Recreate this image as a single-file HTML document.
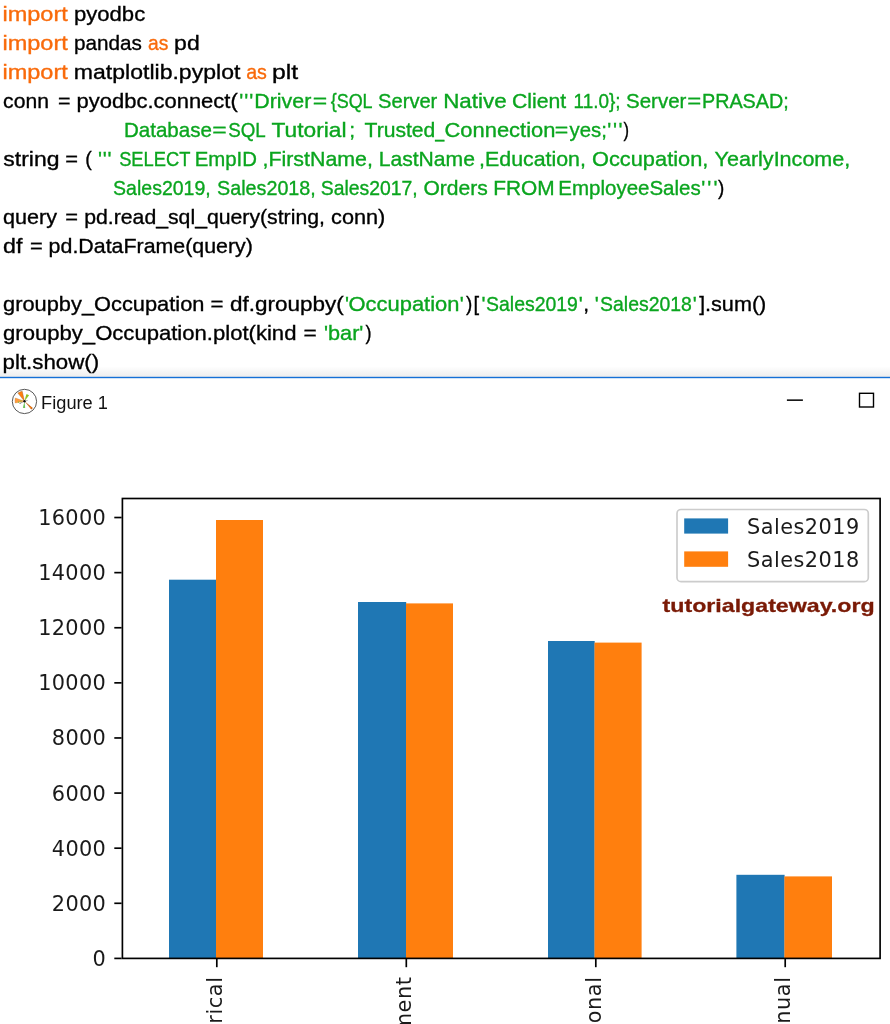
<!DOCTYPE html>
<html lang="en"><head><meta charset="utf-8"><title>Figure 1</title>
<style>html,body{margin:0;padding:0;background:#fff}body{width:890px;height:1024px;overflow:hidden}svg{display:block}.c{font-family:"Liberation Sans",sans-serif;font-size:21px;stroke-width:0.35px;paint-order:stroke}.d{font-family:"DejaVu Sans","Liberation Sans",sans-serif;font-size:20.83px;fill:#1a1a1a}</style></head><body>
<svg width="890" height="1024" viewBox="0 0 890 1024">
<rect width="890" height="1024" fill="#fff"/>
<defs><linearGradient id="gr" x1="0" y1="0" x2="0" y2="1"><stop offset="0" stop-color="#fff"/><stop offset="1" stop-color="#ededed"/></linearGradient></defs>
<rect x="0" y="366.4" width="890" height="10.6" fill="url(#gr)"/>
<g class="c">
<text x="2.43" y="21.0" fill="#f96a0a" stroke="#f96a0a" textLength="65.35" lengthAdjust="spacingAndGlyphs">import</text>
<text x="73.98" y="21.0" fill="#000000" stroke="#000000" textLength="71.21" lengthAdjust="spacingAndGlyphs">pyodbc</text>
<text x="2.43" y="50.0" fill="#f96a0a" stroke="#f96a0a" textLength="65.35" lengthAdjust="spacingAndGlyphs">import</text>
<text x="74.07" y="50.0" fill="#000000" stroke="#000000" textLength="67.88" lengthAdjust="spacingAndGlyphs">pandas</text>
<text x="147.98" y="50.0" fill="#f96a0a" stroke="#f96a0a" textLength="20.31" lengthAdjust="spacingAndGlyphs">as</text>
<text x="174.12" y="50.0" fill="#000000" stroke="#000000" textLength="25.56" lengthAdjust="spacingAndGlyphs">pd</text>
<text x="2.43" y="79.0" fill="#f96a0a" stroke="#f96a0a" textLength="65.35" lengthAdjust="spacingAndGlyphs">import</text>
<text x="73.87" y="79.0" fill="#000000" stroke="#000000" textLength="166.5" lengthAdjust="spacingAndGlyphs">matplotlib.pyplot</text>
<text x="246.17" y="79.0" fill="#f96a0a" stroke="#f96a0a" textLength="20.74" lengthAdjust="spacingAndGlyphs">as</text>
<text x="272.0" y="79.0" fill="#000000" stroke="#000000" textLength="26.18" lengthAdjust="spacingAndGlyphs">plt</text>
<text x="3.1" y="108.0" fill="#000000" stroke="#000000" textLength="45.87" lengthAdjust="spacingAndGlyphs">conn</text>
<text x="57.95" y="108.0" fill="#000000" stroke="#000000" textLength="12.5" lengthAdjust="spacingAndGlyphs">=</text>
<text x="76.58" y="108.0" fill="#000000" stroke="#000000" textLength="161.14" lengthAdjust="spacingAndGlyphs">pyodbc.connect(</text>
<text x="239.33" y="108.0" fill="#0aa51e" stroke="#0aa51e" textLength="13.97" lengthAdjust="spacing">'''</text>
<text x="254.24" y="108.0" fill="#0aa51e" stroke="#0aa51e" textLength="57.11" lengthAdjust="spacingAndGlyphs">Driver</text>
<text x="312.79" y="108.0" fill="#0aa51e" stroke="#0aa51e" textLength="14.42" lengthAdjust="spacingAndGlyphs">=</text>
<text x="330.7" y="108.0" fill="#0aa51e" stroke="#0aa51e" textLength="41.89" lengthAdjust="spacingAndGlyphs">{SQL</text>
<text x="378.09" y="108.0" fill="#0aa51e" stroke="#0aa51e" textLength="59.25" lengthAdjust="spacingAndGlyphs">Server</text>
<text x="443.16" y="108.0" fill="#0aa51e" stroke="#0aa51e" textLength="63.43" lengthAdjust="spacingAndGlyphs">Native</text>
<text x="511.92" y="108.0" fill="#0aa51e" stroke="#0aa51e" textLength="54.23" lengthAdjust="spacingAndGlyphs">Client</text>
<text x="573.6" y="108.0" fill="#0aa51e" stroke="#0aa51e" textLength="47.05" lengthAdjust="spacingAndGlyphs">11.0};</text>
<text x="626.07" y="108.0" fill="#0aa51e" stroke="#0aa51e" textLength="60.27" lengthAdjust="spacingAndGlyphs">Server</text>
<text x="687.23" y="108.0" fill="#0aa51e" stroke="#0aa51e" textLength="13.94" lengthAdjust="spacingAndGlyphs">=</text>
<text x="701.98" y="108.0" fill="#0aa51e" stroke="#0aa51e" textLength="86.8" lengthAdjust="spacingAndGlyphs">PRASAD;</text>
<text x="123.91" y="137.0" fill="#0aa51e" stroke="#0aa51e" textLength="88.0" lengthAdjust="spacingAndGlyphs">Database</text>
<text x="212.39" y="137.0" fill="#0aa51e" stroke="#0aa51e" textLength="14.42" lengthAdjust="spacingAndGlyphs">=</text>
<text x="228.15" y="137.0" fill="#0aa51e" stroke="#0aa51e" textLength="37.47" lengthAdjust="spacingAndGlyphs">SQL</text>
<text x="271.49" y="137.0" fill="#0aa51e" stroke="#0aa51e" textLength="75.01" lengthAdjust="spacingAndGlyphs">Tutorial</text>
<text x="349.28" y="137.0" fill="#0aa51e" stroke="#0aa51e" textLength="5.83" lengthAdjust="spacingAndGlyphs">;</text>
<text x="364.53" y="137.0" fill="#0aa51e" stroke="#0aa51e" textLength="70.82" lengthAdjust="spacingAndGlyphs">Trusted</text>
<text x="435.24" y="137.0" fill="#0aa51e" stroke="#0aa51e" textLength="8.97" lengthAdjust="spacingAndGlyphs">_</text>
<text x="444.49" y="137.0" fill="#0aa51e" stroke="#0aa51e" textLength="110.94" lengthAdjust="spacingAndGlyphs">Connection</text>
<text x="554.67" y="137.0" fill="#0aa51e" stroke="#0aa51e" textLength="13.46" lengthAdjust="spacingAndGlyphs">=</text>
<text x="569.55" y="137.0" fill="#0aa51e" stroke="#0aa51e" textLength="37.28" lengthAdjust="spacingAndGlyphs">yes;</text>
<text x="607.33" y="137.0" fill="#0aa51e" stroke="#0aa51e" textLength="15.17" lengthAdjust="spacing">'''</text>
<text x="623.5" y="137.0" fill="#000000" stroke="#000000" textLength="5.53" lengthAdjust="spacingAndGlyphs">)</text>
<text x="3.36" y="166.0" fill="#000000" stroke="#000000" textLength="56.12" lengthAdjust="spacingAndGlyphs">string</text>
<text x="65.33" y="166.0" fill="#000000" stroke="#000000" textLength="12.74" lengthAdjust="spacingAndGlyphs">=</text>
<text x="85.18" y="166.0" fill="#000000" stroke="#000000" textLength="6.53" lengthAdjust="spacingAndGlyphs">(</text>
<text x="97.93" y="166.0" fill="#0aa51e" stroke="#0aa51e" textLength="13.67" lengthAdjust="spacing">'''</text>
<text x="119.17" y="166.0" fill="#0aa51e" stroke="#0aa51e" textLength="71.25" lengthAdjust="spacingAndGlyphs">SELECT</text>
<text x="194.73" y="166.0" fill="#0aa51e" stroke="#0aa51e" textLength="62.25" lengthAdjust="spacingAndGlyphs">EmpID</text>
<text x="262.48" y="166.0" fill="#0aa51e" stroke="#0aa51e" textLength="110.44" lengthAdjust="spacingAndGlyphs">,FirstName,</text>
<text x="378.67" y="166.0" fill="#0aa51e" stroke="#0aa51e" textLength="96.27" lengthAdjust="spacingAndGlyphs">LastName</text>
<text x="479.08" y="166.0" fill="#0aa51e" stroke="#0aa51e" textLength="106.84" lengthAdjust="spacingAndGlyphs">,Education,</text>
<text x="591.97" y="166.0" fill="#0aa51e" stroke="#0aa51e" textLength="116.39" lengthAdjust="spacingAndGlyphs">Occupation,</text>
<text x="714.53" y="166.0" fill="#0aa51e" stroke="#0aa51e" textLength="135.78" lengthAdjust="spacingAndGlyphs">YearlyIncome,</text>
<text x="113.11" y="195.0" fill="#0aa51e" stroke="#0aa51e" textLength="97.64" lengthAdjust="spacingAndGlyphs">Sales2019,</text>
<text x="217.1" y="195.0" fill="#0aa51e" stroke="#0aa51e" textLength="98.67" lengthAdjust="spacingAndGlyphs">Sales2018,</text>
<text x="320.72" y="195.0" fill="#0aa51e" stroke="#0aa51e" textLength="97.02" lengthAdjust="spacingAndGlyphs">Sales2017,</text>
<text x="423.4" y="195.0" fill="#0aa51e" stroke="#0aa51e" textLength="64.36" lengthAdjust="spacingAndGlyphs">Orders</text>
<text x="493.29" y="195.0" fill="#0aa51e" stroke="#0aa51e" textLength="61.42" lengthAdjust="spacingAndGlyphs">FROM</text>
<text x="558.32" y="195.0" fill="#0aa51e" stroke="#0aa51e" textLength="142.42" lengthAdjust="spacingAndGlyphs">EmployeeSales</text>
<text x="701.33" y="195.0" fill="#0aa51e" stroke="#0aa51e" textLength="16.07" lengthAdjust="spacing">'''</text>
<text x="717.89" y="195.0" fill="#000000" stroke="#000000" textLength="6.28" lengthAdjust="spacingAndGlyphs">)</text>
<text x="3.09" y="224.0" fill="#000000" stroke="#000000" textLength="53.95" lengthAdjust="spacingAndGlyphs">query</text>
<text x="65.33" y="224.0" fill="#000000" stroke="#000000" textLength="12.74" lengthAdjust="spacingAndGlyphs">=</text>
<text x="84.23" y="224.0" fill="#000000" stroke="#000000" textLength="240.67" lengthAdjust="spacingAndGlyphs">pd.read_sql_query(string,</text>
<text x="331.08" y="224.0" fill="#000000" stroke="#000000" textLength="54.27" lengthAdjust="spacingAndGlyphs">conn)</text>
<text x="3.03" y="253.0" fill="#000000" stroke="#000000" textLength="19.34" lengthAdjust="spacingAndGlyphs">df</text>
<text x="29.93" y="253.0" fill="#000000" stroke="#000000" textLength="12.74" lengthAdjust="spacingAndGlyphs">=</text>
<text x="48.62" y="253.0" fill="#000000" stroke="#000000" textLength="204.3" lengthAdjust="spacingAndGlyphs">pd.DataFrame(query)</text>
<text x="3.08" y="311.0" fill="#000000" stroke="#000000" textLength="201.33" lengthAdjust="spacingAndGlyphs">groupby_Occupation</text>
<text x="210.51" y="311.0" fill="#000000" stroke="#000000" textLength="12.98" lengthAdjust="spacingAndGlyphs">=</text>
<text x="230.06" y="311.0" fill="#000000" stroke="#000000" textLength="113.68" lengthAdjust="spacingAndGlyphs">df.groupby(</text>
<text x="344.99" y="311.0" fill="#0aa51e" stroke="#0aa51e" textLength="4.01" lengthAdjust="spacingAndGlyphs">'</text>
<text x="348.56" y="311.0" fill="#0aa51e" stroke="#0aa51e" textLength="110.86" lengthAdjust="spacingAndGlyphs">Occupation</text>
<text x="459.79" y="311.0" fill="#0aa51e" stroke="#0aa51e" textLength="4.01" lengthAdjust="spacingAndGlyphs">'</text>
<text x="465.89" y="311.0" fill="#000000" stroke="#000000" textLength="6.28" lengthAdjust="spacingAndGlyphs">)</text>
<text x="473.57" y="311.0" fill="#000000" stroke="#000000" textLength="5.59" lengthAdjust="spacingAndGlyphs">[</text>
<text x="481.39" y="311.0" fill="#0aa51e" stroke="#0aa51e" textLength="4.01" lengthAdjust="spacingAndGlyphs">'</text>
<text x="486.12" y="311.0" fill="#0aa51e" stroke="#0aa51e" textLength="91.8" lengthAdjust="spacingAndGlyphs">Sales2019</text>
<text x="578.79" y="311.0" fill="#0aa51e" stroke="#0aa51e" textLength="4.01" lengthAdjust="spacingAndGlyphs">'</text>
<text x="583.28" y="311.0" fill="#000000" stroke="#000000" textLength="5.83" lengthAdjust="spacingAndGlyphs">,</text>
<text x="594.79" y="311.0" fill="#0aa51e" stroke="#0aa51e" textLength="4.01" lengthAdjust="spacingAndGlyphs">'</text>
<text x="600.12" y="311.0" fill="#0aa51e" stroke="#0aa51e" textLength="91.72" lengthAdjust="spacingAndGlyphs">Sales2018</text>
<text x="692.79" y="311.0" fill="#0aa51e" stroke="#0aa51e" textLength="4.01" lengthAdjust="spacingAndGlyphs">'</text>
<text x="699.25" y="311.0" fill="#000000" stroke="#000000" textLength="5.83" lengthAdjust="spacingAndGlyphs">]</text>
<text x="705.02" y="311.0" fill="#000000" stroke="#000000" textLength="61.32" lengthAdjust="spacingAndGlyphs">.sum()</text>
<text x="3.07" y="340.0" fill="#000000" stroke="#000000" textLength="293.35" lengthAdjust="spacingAndGlyphs">groupby_Occupation.plot(kind</text>
<text x="303.49" y="340.0" fill="#000000" stroke="#000000" textLength="13.22" lengthAdjust="spacingAndGlyphs">=</text>
<text x="324.09" y="340.0" fill="#0aa51e" stroke="#0aa51e" textLength="4.01" lengthAdjust="spacingAndGlyphs">'</text>
<text x="328.0" y="340.0" fill="#0aa51e" stroke="#0aa51e" textLength="31.36" lengthAdjust="spacingAndGlyphs">bar</text>
<text x="359.29" y="340.0" fill="#0aa51e" stroke="#0aa51e" textLength="4.01" lengthAdjust="spacingAndGlyphs">'</text>
<text x="365.49" y="340.0" fill="#000000" stroke="#000000" textLength="6.03" lengthAdjust="spacingAndGlyphs">)</text>
<text x="2.56" y="369.0" fill="#000000" stroke="#000000" textLength="96.52" lengthAdjust="spacingAndGlyphs">plt.show()</text>
</g>
<rect x="0" y="376.8" width="890" height="1.4" fill="#1570d6"/>
<g id="mpl-icon">
<circle cx="24.45" cy="401.45" r="12.15" fill="#fff" stroke="#3a3a3a" stroke-width="0.85"/>
<path d="M24.5 401.3 L17.9 393.1 A10.6 10.6 0 0 1 22.2 391.2 Z" fill="#ff7f0e" stroke="#8a4a0a" stroke-width="0.35"/>
<path d="M24.5 401.3 L15.2 403 A9.5 9.5 0 0 1 15.4 398 Z" fill="#ff9a3c" stroke="#b8660f" stroke-width="0.3"/>
<path d="M20.6 400.2 L21.4 400.3 L21.3 402.4 L20.5 402.3 Z M18.2 401.2 L19 401.3 L18.9 403 L18.1 402.9 Z" fill="#8cc63f"/>
<path d="M24.5 401.3 L26.3 394.3 A7.4 7.4 0 0 1 29.1 395.2 Z" fill="#8fc31f"/>
<path d="M24.5 401.3 L25.2 407.9 A6.8 6.8 0 0 1 22.9 407.7 Z" fill="#6cc35a"/>
<path d="M24.5 401.3 L32.9 408 A10.8 10.8 0 0 1 31.3 409.6 Z" fill="#c8681a"/>
<circle cx="30.6" cy="407.6" r="0.8" fill="#ff7f0e"/>
<path d="M24.5 401.3 L19.8 404 L19.4 403.2 Z M24.5 401.3 L27.6 400.2 L27.4 400.9 Z" fill="#666"/>
<circle cx="24.5" cy="401.3" r="1.2" fill="#111"/>
</g>
<text x="41.1" y="408.6" font-family="Liberation Sans, sans-serif" font-size="18" fill="#111" textLength="66.8" lengthAdjust="spacingAndGlyphs">Figure 1</text>
<rect x="786.9" y="399.4" width="16" height="1.5" fill="#000"/>
<rect x="859.5" y="393.3" width="14" height="13.7" fill="none" stroke="#000" stroke-width="1.4"/>
<rect x="169" y="579.7" width="47.2" height="378.7" fill="#1f77b4"/>
<rect x="216" y="520.0" width="47.0" height="438.4" fill="#ff7f0e"/>
<rect x="358" y="602.0" width="48.2" height="356.4" fill="#1f77b4"/>
<rect x="406" y="603.4" width="47.0" height="355.0" fill="#ff7f0e"/>
<rect x="548" y="641.0" width="46.7" height="317.4" fill="#1f77b4"/>
<rect x="594.5" y="642.6" width="47.1" height="315.8" fill="#ff7f0e"/>
<rect x="736.4" y="874.8" width="48.2" height="83.6" fill="#1f77b4"/>
<rect x="784.4" y="876.4" width="47.6" height="82.0" fill="#ff7f0e"/>
<rect x="122.4" y="498.5" width="757.7" height="459.9" fill="none" stroke="#000" stroke-width="1.67"/>
<g class="d" text-anchor="end">
<rect x="114.3" y="957.57" width="7.3" height="1.67" fill="#000"/>
<text x="106.2" y="965.8" letter-spacing="0.35">0</text>
<rect x="114.3" y="902.46" width="7.3" height="1.67" fill="#000"/>
<text x="106.2" y="910.7" letter-spacing="0.35">2000</text>
<rect x="114.3" y="847.35" width="7.3" height="1.67" fill="#000"/>
<text x="106.2" y="855.6" letter-spacing="0.35">4000</text>
<rect x="114.3" y="792.24" width="7.3" height="1.67" fill="#000"/>
<text x="106.2" y="800.5" letter-spacing="0.35">6000</text>
<rect x="114.3" y="737.13" width="7.3" height="1.67" fill="#000"/>
<text x="106.2" y="745.4" letter-spacing="0.35">8000</text>
<rect x="114.3" y="682.02" width="7.3" height="1.67" fill="#000"/>
<text x="106.2" y="690.2" letter-spacing="0.35">10000</text>
<rect x="114.3" y="626.91" width="7.3" height="1.67" fill="#000"/>
<text x="106.2" y="635.1" letter-spacing="0.35">12000</text>
<rect x="114.3" y="571.80" width="7.3" height="1.67" fill="#000"/>
<text x="106.2" y="580.0" letter-spacing="0.35">14000</text>
<rect x="114.3" y="516.69" width="7.3" height="1.67" fill="#000"/>
<text x="106.2" y="524.9" letter-spacing="0.35">16000</text>
</g>
<g class="d" text-anchor="end">
<rect x="215.97" y="958.4" width="1.67" height="8.8" fill="#000"/>
<text transform="translate(221.7 976.4) rotate(-90)" letter-spacing="0.6">Clerical</text>
<rect x="405.47" y="958.4" width="1.67" height="8.8" fill="#000"/>
<text transform="translate(411.2 976.4) rotate(-90)" letter-spacing="0.6">Management</text>
<rect x="594.97" y="958.4" width="1.67" height="8.8" fill="#000"/>
<text transform="translate(600.7 976.4) rotate(-90)" letter-spacing="0.6">Professional</text>
<rect x="784.37" y="958.4" width="1.67" height="8.8" fill="#000"/>
<text transform="translate(790.1 976.4) rotate(-90)" letter-spacing="0.6">Skilled Manual</text>
</g>
<rect x="677" y="509.5" width="191.3" height="72.2" rx="4" ry="4" fill="#fff" fill-opacity="0.8" stroke="#cccccc" stroke-width="1.67"/>
<rect x="684.2" y="518.4" width="43.9" height="15.2" fill="#1f77b4"/>
<rect x="684.2" y="551.4" width="43.9" height="15.4" fill="#ff7f0e"/>
<g class="d" letter-spacing="0.45"><text x="747.1" y="533.6">Sales2019</text><text x="747.1" y="566.7">Sales2018</text></g>
<text x="662.6" y="612" font-family="Liberation Sans, sans-serif" font-weight="700" font-size="19" fill="#7a1a06" stroke="#7a1a06" stroke-width="0.3" textLength="212" lengthAdjust="spacingAndGlyphs">tutorialgateway.org</text>
</svg></body></html>
